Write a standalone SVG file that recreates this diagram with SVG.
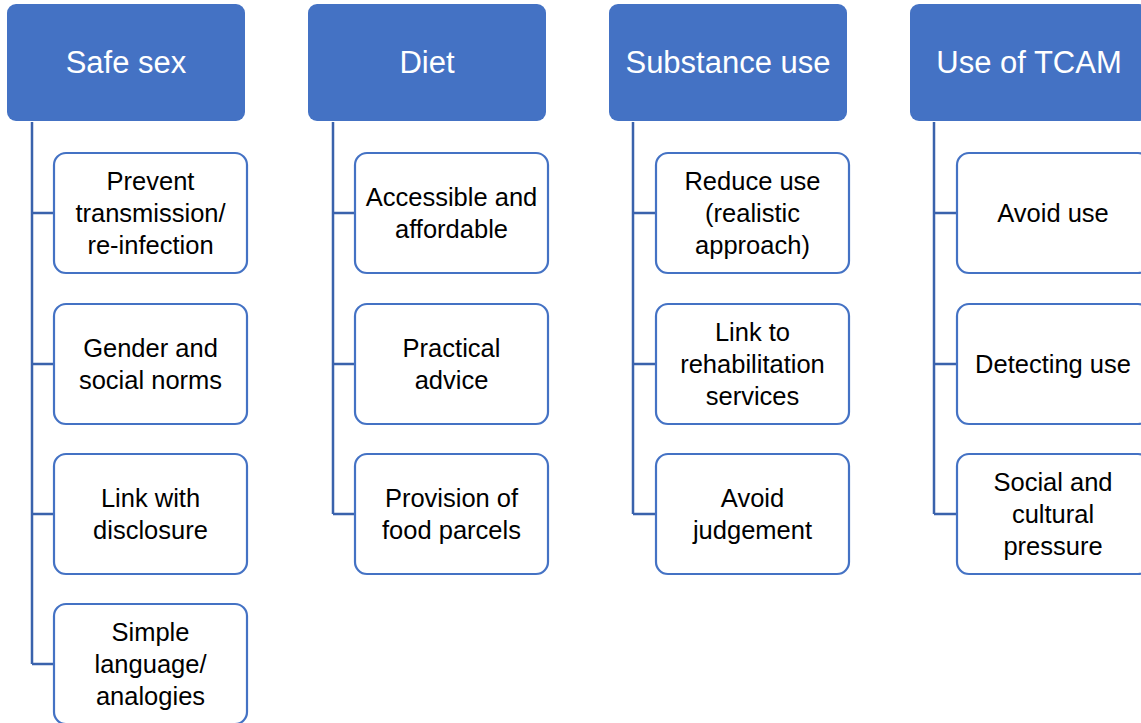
<svg xmlns="http://www.w3.org/2000/svg" width="1141" height="723" viewBox="0 0 1141 723">
<style>
.hd{fill:#4472C4;}
.ht{fill:#ffffff;font-family:"Liberation Sans",Arial,sans-serif;font-size:31px;text-anchor:middle;}
.ch{fill:#ffffff;stroke:#4472C4;stroke-width:2.2;}
.ct{fill:#000000;font-family:"Liberation Sans",Arial,sans-serif;font-size:25.5px;text-anchor:middle;}
.cn{fill:none;stroke:#3A62AC;stroke-width:2.5;}
</style>
<rect width="1141" height="723" fill="#ffffff"/>
<g id="connectors">
<path class="cn" d="M32,122 V664 M32,213 H54 M32,364 H54 M32,514 H54 M32,664 H54"/>
<path class="cn" d="M333,122 V514 M333,213 H355 M333,364 H355 M333,514 H355"/>
<path class="cn" d="M633,122 V514 M633,213 H656 M633,364 H656 M633,514 H656"/>
<path class="cn" d="M934,122 V514 M934,213 H957 M934,364 H957 M934,514 H957"/>
</g>
<g id="h1"><rect class="hd" x="7" y="4" width="238" height="117" rx="9"/><text class="ht" x="126" y="73">Safe sex</text></g>
<g id="h2"><rect class="hd" x="308" y="4" width="238" height="117" rx="9"/><text class="ht" x="427" y="73">Diet</text></g>
<g id="h3"><rect class="hd" x="609" y="4" width="238" height="117" rx="9"/><text class="ht" x="728" y="73">Substance use</text></g>
<g id="h4"><rect class="hd" x="910" y="4" width="238" height="117" rx="9"/><text class="ht" x="1029" y="73">Use of TCAM</text></g>

<g id="c1a"><rect class="ch" x="54" y="153" width="193" height="120" rx="12"/><text class="ct" x="150.5" y="190">Prevent</text><text class="ct" x="150.5" y="222">transmission/</text><text class="ct" x="150.5" y="254">re-infection</text></g>
<g id="c1b"><rect class="ch" x="54" y="304" width="193" height="120" rx="12"/><text class="ct" x="150.5" y="357">Gender and</text><text class="ct" x="150.5" y="389">social norms</text></g>
<g id="c1c"><rect class="ch" x="54" y="454" width="193" height="120" rx="12"/><text class="ct" x="150.5" y="507">Link with</text><text class="ct" x="150.5" y="539">disclosure</text></g>
<g id="c1d"><rect class="ch" x="54" y="604" width="193" height="120" rx="12"/><text class="ct" x="150.5" y="641">Simple</text><text class="ct" x="150.5" y="673">language/</text><text class="ct" x="150.5" y="705">analogies</text></g>

<g id="c2a"><rect class="ch" x="355" y="153" width="193" height="120" rx="12"/><text class="ct" x="451.5" y="206">Accessible and</text><text class="ct" x="451.5" y="238">affordable</text></g>
<g id="c2b"><rect class="ch" x="355" y="304" width="193" height="120" rx="12"/><text class="ct" x="451.5" y="357">Practical</text><text class="ct" x="451.5" y="389">advice</text></g>
<g id="c2c"><rect class="ch" x="355" y="454" width="193" height="120" rx="12"/><text class="ct" x="451.5" y="507">Provision of</text><text class="ct" x="451.5" y="539">food parcels</text></g>

<g id="c3a"><rect class="ch" x="656" y="153" width="193" height="120" rx="12"/><text class="ct" x="752.5" y="190">Reduce use</text><text class="ct" x="752.5" y="222">(realistic</text><text class="ct" x="752.5" y="254">approach)</text></g>
<g id="c3b"><rect class="ch" x="656" y="304" width="193" height="120" rx="12"/><text class="ct" x="752.5" y="341">Link to</text><text class="ct" x="752.5" y="373">rehabilitation</text><text class="ct" x="752.5" y="405">services</text></g>
<g id="c3c"><rect class="ch" x="656" y="454" width="193" height="120" rx="12"/><text class="ct" x="752.5" y="507">Avoid</text><text class="ct" x="752.5" y="539">judgement</text></g>

<g id="c4a"><rect class="ch" x="957" y="153" width="193" height="120" rx="12"/><text class="ct" x="1053" y="222">Avoid use</text></g>
<g id="c4b"><rect class="ch" x="957" y="304" width="193" height="120" rx="12"/><text class="ct" x="1053" y="373">Detecting use</text></g>
<g id="c4c"><rect class="ch" x="957" y="454" width="193" height="120" rx="12"/><text class="ct" x="1053" y="491">Social and</text><text class="ct" x="1053" y="523">cultural</text><text class="ct" x="1053" y="555">pressure</text></g>
</svg>
